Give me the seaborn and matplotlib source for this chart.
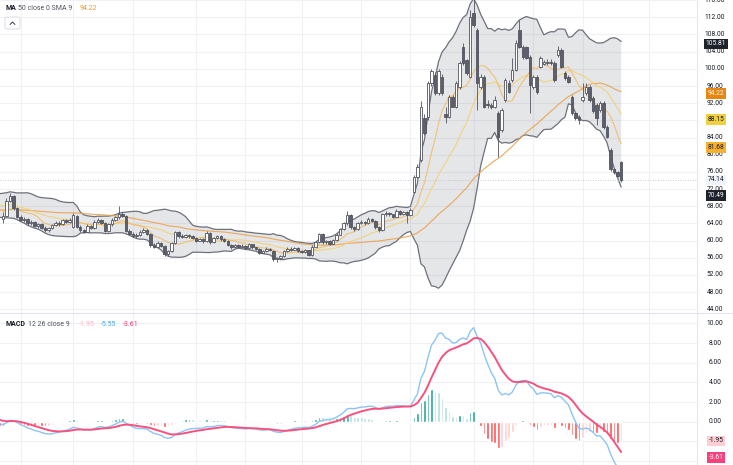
import numpy as np
import pandas as pd
import seaborn as sns
import matplotlib.pyplot as plt
from matplotlib.lines import Line2D
from matplotlib.patches import FancyBboxPatch
from matplotlib.transforms import blended_transform_factory

# closes before the first visible candle, only used to warm up the indicators
prior_close = [67.2, 66.5, 65.8, 66.4, 67.1, 66.3, 65.5, 64.9, 65.6, 66.2,
               65.4, 64.8, 65.3, 66.0, 66.8, 67.5, 66.9, 66.1, 65.6, 66.3,
               67.0, 67.8, 68.6, 69.4, 70.1, 69.3, 68.5, 69.0, 69.8, 70.5,
               69.7, 68.8, 68.0, 67.2, 66.5, 67.3, 68.1, 67.0, 66.2, 65.4]

opens = [65.0, 65.8, 69.3, 70.4, 67.6, 65.6, 64.8, 65.0, 64.0, 64.3,
         63.4, 63.8, 63.0, 62.4, 62.9, 63.6, 64.2, 63.9, 64.7, 64.4,
         63.2, 65.8, 63.2, 62.4, 62.1, 63.4, 62.9, 64.4, 64.9, 64.1,
         62.3, 63.8, 64.9, 65.4, 66.3, 65.8, 62.3, 61.6, 61.1, 61.3,
         62.1, 62.4, 61.6, 59.0, 58.6, 59.4, 58.8, 56.8, 57.6, 59.4,
         61.9, 61.0, 60.8, 61.3, 61.0, 60.6, 60.0, 60.3, 59.8, 61.8,
         59.6, 60.6, 61.0, 60.3, 59.9, 59.0, 58.4, 58.9, 58.5, 58.8,
         58.3, 59.1, 58.4, 58.0, 57.2, 57.6, 58.1, 57.6, 55.6, 55.9,
         56.3, 57.6, 58.1, 57.9, 58.2, 57.6, 57.3, 57.7, 56.6, 58.6,
         59.6, 61.5, 59.6, 59.9, 59.3, 60.1, 61.4, 62.6, 64.0, 65.9,
         63.1, 62.6, 64.1, 64.4, 64.0, 65.1, 64.6, 63.1, 62.5, 66.1,
         66.5, 66.1, 65.6, 67.0, 66.2, 66.6, 66.0,
         71.4, 74.9, 78.8, 88.5, 88.9, 96.6, 98.6, 94.3, 98.2, 89.5,
         88.9, 93.5, 91.2, 95.8, 105.2, 102.0, 98.2, 112.9, 109.0, 95.8,
         98.2, 91.9, 91.5, 91.2, 89.6, 85.8, 92.7, 96.6, 97.4, 99.8,
         109.0, 105.2, 105.0, 102.8, 95.8, 98.2, 100.5, 101.2, 101.4, 101.6,
         101.3, 103.2, 104.4, 99.0, 98.2, 93.5, 89.6, 88.9, 92.7, 94.3,
         95.8, 93.2, 91.6, 90.4, 92.0, 86.5, 81.2, 76.6, 75.9, 78.2]

highs = [66.6, 70.0, 71.0, 70.6, 67.9, 66.0, 65.4, 65.2, 64.7, 64.5,
         64.1, 64.0, 63.3, 63.2, 63.9, 64.5, 64.6, 65.0, 65.1, 65.3,
         66.4, 66.0, 63.6, 62.8, 63.8, 63.7, 64.8, 65.2, 65.1, 64.3,
         64.1, 65.2, 65.7, 68.0, 66.7, 66.0, 62.7, 62.0, 61.8, 62.5,
         62.9, 62.6, 61.8, 59.5, 59.8, 59.6, 59.0, 57.9, 59.7, 62.3,
         62.2, 61.5, 61.6, 61.5, 61.2, 60.8, 60.6, 60.5, 62.2, 62.0,
         60.9, 61.4, 61.2, 60.5, 60.1, 59.2, 59.2, 59.1, 59.1, 59.0,
         59.4, 59.3, 58.6, 58.2, 57.9, 58.4, 58.3, 57.8, 56.2, 56.6,
         57.9, 58.4, 58.5, 58.6, 58.4, 57.8, 58.0, 57.9, 58.9, 59.9,
         61.8, 61.7, 60.2, 60.1, 60.4, 61.7, 62.9, 64.4, 66.8, 66.1,
         63.4, 64.4, 64.8, 64.6, 65.4, 65.3, 64.8, 63.4, 66.4, 66.9,
         66.7, 66.3, 67.3, 67.2, 66.9, 66.8, 67.5,
         75.3, 77.8, 92.5, 89.5, 97.2, 100.0, 99.2, 99.9, 98.8, 91.0,
         93.9, 94.0, 97.2, 101.9, 106.0, 102.4, 113.7, 117.0, 109.5, 98.8,
         98.6, 92.8, 92.0, 93.6, 90.2, 90.9, 97.9, 97.3, 102.5, 106.8,
         111.4, 105.6, 105.4, 103.2, 98.6, 98.6, 103.0, 102.0, 102.2, 102.3,
         101.8, 105.3, 104.8, 99.4, 98.5, 94.0, 90.0, 89.3, 96.6, 96.6,
         96.2, 93.6, 92.0, 92.4, 92.4, 86.9, 81.6, 77.0, 76.3, 78.6]

lows = [64.2, 65.5, 68.9, 67.2, 65.2, 64.5, 64.3, 63.7, 63.6, 63.1,
        63.0, 62.8, 62.0, 62.1, 62.7, 63.3, 63.5, 63.7, 64.0, 64.1,
        63.0, 62.9, 62.1, 61.8, 62.0, 62.6, 62.7, 64.0, 63.8, 62.0,
        62.1, 63.5, 64.5, 65.1, 65.4, 62.0, 61.3, 60.8, 60.7, 61.0,
        61.8, 61.3, 58.6, 58.2, 58.4, 58.5, 56.3, 56.5, 57.4, 59.2,
        60.7, 60.5, 60.6, 60.7, 60.3, 59.7, 59.8, 59.5, 59.6, 59.3,
        59.4, 60.3, 60.0, 59.6, 58.7, 58.1, 58.2, 58.2, 58.3, 58.0,
        58.1, 58.1, 57.7, 56.9, 57.0, 57.4, 57.5, 55.2, 55.1, 55.6,
        56.1, 57.4, 57.6, 57.7, 57.3, 57.0, 57.1, 56.3, 56.4, 58.4,
        59.4, 59.3, 59.3, 59.0, 59.1, 59.9, 61.2, 62.4, 63.6, 62.8,
        62.2, 62.4, 63.8, 63.7, 63.8, 64.3, 62.8, 62.1, 62.3, 65.8,
        65.8, 65.3, 65.4, 65.9, 65.9, 64.0, 65.7,
        71.0, 74.5, 78.3, 84.5, 88.2, 96.0, 93.8, 93.9, 93.9, 87.5,
        88.5, 91.0, 90.8, 95.4, 100.8, 98.6, 97.8, 109.8, 90.5, 95.3,
        90.8, 90.8, 90.6, 90.9, 79.5, 85.4, 92.3, 94.3, 97.0, 99.4,
        104.8, 102.4, 102.2, 89.6, 95.4, 94.2, 100.1, 100.8, 100.9, 101.0,
        97.0, 102.8, 100.1, 97.4, 96.6, 89.2, 88.1, 87.2, 92.3, 94.0,
        92.3, 89.7, 86.9, 90.0, 86.1, 83.8, 76.2, 75.5, 74.7, 73.7]

closes = [65.8, 69.3, 70.3, 67.6, 65.6, 64.8, 65.0, 64.0, 64.3, 63.4,
          63.8, 63.0, 62.4, 62.9, 63.6, 64.2, 63.9, 64.7, 64.4, 64.9,
          66.0, 63.2, 62.4, 62.1, 63.4, 62.9, 64.4, 64.9, 64.1, 62.3,
          63.8, 64.9, 65.4, 66.3, 65.8, 62.3, 61.6, 61.1, 61.3, 62.1,
          62.4, 61.6, 59.0, 58.6, 59.4, 58.8, 56.8, 57.6, 59.4, 61.9,
          61.0, 60.8, 61.3, 61.0, 60.6, 60.0, 60.3, 59.8, 61.8, 59.6,
          60.6, 61.0, 60.3, 59.9, 59.0, 58.4, 58.9, 58.5, 58.8, 58.3,
          59.1, 58.4, 58.0, 57.2, 57.6, 58.1, 57.8, 55.6, 55.9, 56.3,
          57.6, 58.1, 57.9, 58.2, 57.6, 57.3, 57.7, 56.6, 58.6, 59.6,
          61.5, 59.6, 59.9, 59.3, 60.1, 61.4, 62.6, 64.0, 65.9, 63.1,
          62.6, 64.1, 64.4, 64.0, 65.1, 64.6, 63.1, 62.5, 66.1, 66.5,
          66.1, 65.6, 67.0, 66.2, 66.6, 66.0, 67.2,
          74.9, 77.2, 91.2, 85.0, 96.6, 99.4, 94.3, 99.4, 94.3, 88.9,
          93.5, 91.2, 96.6, 101.3, 101.3, 99.0, 112.0, 110.2, 96.6, 98.2,
          91.2, 91.5, 91.2, 92.8, 84.2, 90.4, 97.4, 94.7, 99.8, 106.0,
          105.2, 102.8, 102.5, 96.2, 98.2, 94.7, 102.5, 101.6, 101.6, 101.4,
          97.4, 104.4, 100.5, 97.8, 97.0, 89.6, 88.5, 88.1, 93.5, 95.8,
          92.7, 90.1, 88.5, 92.0, 86.5, 84.2, 76.6, 75.9, 75.1, 74.14]

price_ticks = list(range(44, 117, 4))
macd_ticks = [-4, -2, 0, 2, 4, 6, 8, 10]
period_starts = [5, 20, 37, 55, 69, 85, 102, 116, 134, 151, 165, 184]

# last values printed on the right scale of the screenshot
bb_upper_last, bb_lower_last = 105.81, 70.49
ma50_last, basis_last, fast_last = 94.22, 88.15, 81.68
last_close = 74.14
hist_last, macd_last, signal_last = -1.95, -5.55, -3.61

# ---- indicators ----
n_prior = len(prior_close)
allc = pd.Series(prior_close + closes)
xi = np.arange(len(allc)) - n_prior
ma50 = allc.rolling(50, min_periods=1).mean()
basis = allc.rolling(20, min_periods=1).mean()
dev = allc.rolling(20, min_periods=1).std(ddof=0)
upper = basis + 2 * dev
lower = basis - 2 * dev
fast = allc.rolling(9, min_periods=1).mean()
ema12 = allc.ewm(span=12, adjust=False).mean()
ema26 = allc.ewm(span=26, adjust=False).mean()
macd = ema12 - ema26
signal = macd.ewm(span=9, adjust=False).mean()
hist = macd - signal

sns.set_theme(style="white")
plt.rcParams['font.family'] = ['Roboto', 'DejaVu Sans']

W, H = 733, 465
fig = plt.figure(figsize=(W / 100, H / 100), dpi=100)
pane_w = 697 / W
ax1 = fig.add_axes([0, 152 / H, pane_w, 313 / H])
ax2 = fig.add_axes([0, 0, pane_w, 152 / H])

xmin, xmax = -0.85, 197.6
for ax in (ax1, ax2):
    ax.set_xlim(xmin, xmax)
    ax.set_xticks([])
    ax.set_yticks([])
    for s in ax.spines.values():
        s.set_visible(False)
    for p in period_starts:
        ax.axvline(p, color='#f0f1f4', lw=0.8, zorder=0)
ax1.set_ylim(43.14, 116.03)
ax2.set_ylim(-4.40, 11.05)
for v in price_ticks:
    ax1.axhline(v, color='#f0f1f4', lw=0.8, zorder=0)
for v in macd_ticks:
    ax2.axhline(v, color='#f0f1f4', lw=0.8, zorder=0)

# ---- price pane ----
ax1.fill_between(xi, lower, upper, color='#787b86', alpha=0.19, lw=0, zorder=1)
sns.lineplot(x=xi, y=upper, ax=ax1, color='#6e717c', lw=0.9, zorder=2)
sns.lineplot(x=xi, y=lower, ax=ax1, color='#6e717c', lw=0.9, zorder=2)
sns.lineplot(x=xi, y=ma50, ax=ax1, color='#eba04a', lw=0.85, alpha=0.85, zorder=2)
sns.lineplot(x=xi, y=basis, ax=ax1, color='#f2d27a', lw=0.85, alpha=0.9, zorder=2)
sns.lineplot(x=xi, y=fast, ax=ax1, color='#f3b65a', lw=0.85, alpha=0.75, zorder=2)

o = np.array(opens)
h = np.array(highs)
l = np.array(lows)
c = np.array(closes)
x = np.arange(len(c))
up = c >= o
body = np.maximum(np.abs(c - o), 0.2)
ax1.vlines(x, l, h, color='#50535e', lw=0.6, zorder=3)
ax1.bar(x[up], body[up], bottom=o[up], width=0.7, color='white',
        edgecolor='#50535e', linewidth=0.6, zorder=4)
ax1.bar(x[~up], body[~up], bottom=c[~up], width=0.7, color='#5d606b',
        edgecolor='#50535e', linewidth=0.6, zorder=4)
ax1.axhline(last_close, color='#b8bbc4', lw=0.6, ls=(0, (1, 2)), zorder=2)

# ---- MACD pane ----
hv = hist.values
hcol = []
for k in range(len(hv)):
    prev = hv[k - 1] if k > 0 else 0
    if hv[k] >= 0:
        hcol.append('#26a69a' if hv[k] > prev else '#b2dfdb')
    else:
        hcol.append('#ff5252' if hv[k] < prev else '#ffcdd2')
ax2.bar(xi, hv, width=0.75, color=hcol, zorder=2)
sns.lineplot(x=xi, y=macd, ax=ax2, color='#8cc4f5', lw=1.0, zorder=3)
sns.lineplot(x=xi, y=signal, ax=ax2, color='#f7527f', lw=1.4, zorder=3)

# ---- right scales ----
fs = 4.8
tr1 = blended_transform_factory(ax1.transAxes, ax1.transData)
tr2 = blended_transform_factory(ax2.transAxes, ax2.transData)
xl = 715 / 697
for v in price_ticks:
    ax1.text(xl, v, f'{v:.2f}', transform=tr1, ha='center', va='center',
             fontsize=fs, color='#131722', clip_on=False)
for v in macd_ticks[1:]:
    ax2.text(xl, v, f'{v:.2f}', transform=tr2, ha='center', va='center',
             fontsize=fs, color='#131722', clip_on=False)


def tag(ax, tr, v, fc, tc):
    ax.text(716 / 697, v, f'{v:.2f}', transform=tr, ha='center', va='center',
            fontsize=fs, color=tc, clip_on=False, zorder=10,
            bbox=dict(boxstyle='square,pad=0.28', fc=fc, ec='none'))


tag(ax1, tr1, bb_upper_last, '#1e222d', 'white')
tag(ax1, tr1, ma50_last, '#e8860f', 'white')
tag(ax1, tr1, basis_last, '#f0d040', '#131722')
tag(ax1, tr1, fast_last, '#f8b030', '#131722')
tag(ax1, tr1, last_close, '#f0f3fa', '#131722')
tag(ax1, tr1, bb_lower_last, '#1e222d', 'white')
tag(ax2, tr2, hist_last, '#ffcdd2', '#131722')
tag(ax2, tr2, signal_last, '#f7407c', 'white')

# separators
fig.add_artist(Line2D([696.5 / W] * 2, [0, 1], color='#e6e8ee', lw=0.8))
fig.add_artist(Line2D([0, 1], [1 - 313.3 / H] * 2, color='#e0e3eb', lw=0.8))


# ---- legends ----
def fx(px):
    return px / W


def fy(py):
    return 1 - py / H


fig.text(fx(5), fy(8), 'MA', fontsize=5, color='#131722', va='center', fontweight='bold')
fig.text(fx(17.5), fy(8), '50 close 0 SMA 9', fontsize=5, color='#50535e', va='center')
fig.text(fx(80), fy(8), f'{ma50_last:.2f}', fontsize=5, color='#f09a1a', va='center')
btn = FancyBboxPatch((fx(5), fy(29)), fx(15), 12 / H, boxstyle='round,pad=0,rounding_size=0.004',
                     transform=fig.transFigure, fc='white', ec='#d6d8de', lw=0.6)
fig.add_artist(btn)
fig.add_artist(Line2D([fx(10), fx(12.5), fx(15)], [fy(24.5), fy(22), fy(24.5)],
                      color='#131722', lw=0.6))

fig.text(fx(5), fy(324), 'MACD', fontsize=5, color='#131722', va='center', fontweight='bold')
fig.text(fx(28), fy(324), '12 26 close 9', fontsize=5, color='#50535e', va='center')
fig.text(fx(79), fy(324), f'{hist_last:.2f}', fontsize=5, color='#ffb3c0', va='center')
fig.text(fx(101), fy(324), f'{macd_last:.2f}', fontsize=5, color='#42a5f5', va='center')
fig.text(fx(123), fy(324), f'{signal_last:.2f}', fontsize=5, color='#f23b6f', va='center')

fig.savefig('out.png', dpi=100, facecolor='white')
